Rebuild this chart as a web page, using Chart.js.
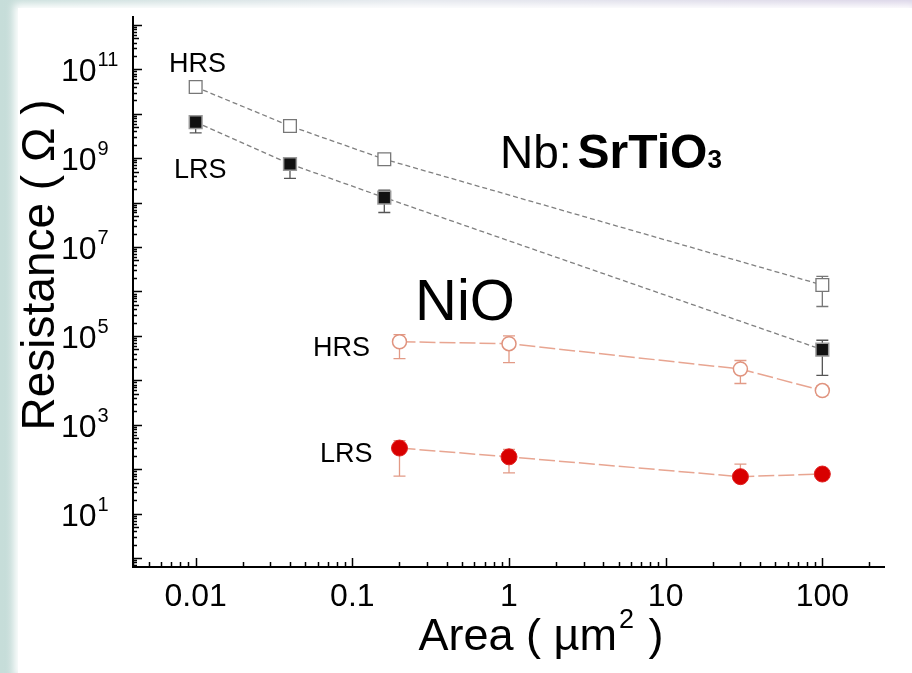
<!DOCTYPE html>
<html>
<head>
<meta charset="utf-8">
<script src="https://cdn.jsdelivr.net/npm/chart.js@4.4.1/dist/chart.umd.min.js"></script>
<style>
  html, body { margin: 0; padding: 0; }
  body {
    width: 912px; height: 673px; overflow: hidden; position: relative;
    background: linear-gradient(90deg, #c6ddd9 0%, #e2e6ec 45%, #d8d1e6 100%);
  }
  .panel {
    position: absolute; left: 18px; top: 8px; right: 0; bottom: 0;
    background: #fff; box-shadow: 0 0 8px 4px #fff;
  }
  .wrap { position: absolute; left: 0; top: 0; width: 912px; height: 673px; }
</style>
</head>
<body>
<div class="panel"></div>
<div class="wrap"><canvas id="resChart"></canvas></div>
<script>
// 数据：面积 (μm²) 与电阻 (Ω)
const areaNb = [0.01, 0.04, 0.16, 100];
const nbHrs = [4.0e10, 5.3e9, 9.5e8, 1.4e6];
const nbHrsLow = [3.4e10, 4.6e9, 8.3e8, 4.6e5];
const nbHrsHigh = [4.7e10, 6.1e9, 1.1e9, 2.2e6];
const nbLrs = [6.5e9, 7.4e8, 1.3e8, 4.9e4];
const nbLrsLow = [3.7e9, 3.5e8, 6.0e7, 1.3e4];
const nbLrsHigh = [8.9e9, 1.0e9, 1.9e8, 8.0e4];

const areaNiO = [0.2, 1, 30, 100];
const nioHrs = [7.4e4, 6.7e4, 1.8e4, 5.9e3];
const nioHrsLow = [3.1e4, 2.5e4, 8.5e3, 4.6e3];
const nioHrsHigh = [1.07e5, 1.0e5, 2.8e4, 7.5e3];
const nioLrs = [300, 190, 68, 78];
const nioLrsLow = [70, 83, 60, 78];
const nioLrsHigh = [440, 280, 130, 78];

// 刻度
const xTickValues = [0.01, 0.1, 1, 10, 100];
const xTickLabels = ['0.01', '0.1', '1', '10', '100'];
const yTickExponents = [1, 3, 5, 7, 9, 11];

const FONT = "'Liberation Sans', Arial, sans-serif";

function pts(xs, ys) {
  return xs.map((x, i) => ({ x: x, y: ys[i] }));
}

function drawParts(ctx, parts, x, y) {
  parts.forEach(p => {
    ctx.font = p.font;
    ctx.fillText(p.text, x, y + (p.dy || 0));
    x += ctx.measureText(p.text).width + (p.gap || 0);
  });
}

function partsWidth(ctx, parts) {
  let w = 0;
  parts.forEach(p => { ctx.font = p.font; w += ctx.measureText(p.text).width + (p.gap || 0); });
  return w;
}

const errorBars = {
  id: 'errorBars',
  beforeDatasetsDraw(chart) {
    const ctx = chart.ctx;
    const xs = chart.scales.x, ys = chart.scales.y;
    chart.data.datasets.forEach(ds => {
      if (!ds.errLow) return;
      ctx.save();
      ctx.strokeStyle = ds.errColor;
      ctx.lineWidth = 1.3;
      ds.data.forEach((p, i) => {
        const px = xs.getPixelForValue(p.x);
        const y1 = ys.getPixelForValue(ds.errLow[i]);
        const y2 = ys.getPixelForValue(ds.errHigh[i]);
        if (Math.abs(y1 - y2) < 2) return;
        ctx.beginPath();
        ctx.moveTo(px, y1); ctx.lineTo(px, y2);
        ctx.moveTo(px - 6, y1); ctx.lineTo(px + 6, y1);
        ctx.moveTo(px - 6, y2); ctx.lineTo(px + 6, y2);
        ctx.stroke();
      });
      ctx.restore();
    });
  }
};

const frame = {
  id: 'frame',
  afterDraw(chart) {
    const ctx = chart.ctx;
    const a = chart.chartArea;
    const xs = chart.scales.x, ys = chart.scales.y;
    ctx.save();
    ctx.strokeStyle = '#000';
    ctx.fillStyle = '#000';

    // 坐标轴线
    ctx.lineWidth = 2;
    ctx.beginPath();
    ctx.moveTo(a.left, a.top); ctx.lineTo(a.left, a.bottom); ctx.lineTo(a.right, a.bottom);
    ctx.stroke();

    // y 轴刻度（向内）
    ctx.lineWidth = 1.5;
    ctx.beginPath();
    for (let e = -1; e <= 12; e++) {
      for (let m = 1; m <= 9; m++) {
        const v = m * Math.pow(10, e);
        if (v < ys.min || v > ys.max) continue;
        const py = Math.round(ys.getPixelForValue(v)) + 0.5;
        const len = m === 1 ? 9 : (m === 5 ? 6 : 4);
        ctx.moveTo(a.left, py); ctx.lineTo(a.left + len, py);
      }
    }
    // x 轴刻度（向内）
    for (let e = -3; e <= 2; e++) {
      for (let m = 1; m <= 9; m++) {
        const v = m * Math.pow(10, e);
        if (v < xs.min || v > xs.max) continue;
        const px = Math.round(xs.getPixelForValue(v)) + 0.5;
        const len = m === 1 ? 9 : 5;
        ctx.moveTo(px, a.bottom); ctx.lineTo(px, a.bottom - len);
      }
    }
    ctx.stroke();

    // x 刻度标签
    ctx.font = '32px ' + FONT;
    ctx.textAlign = 'center';
    ctx.textBaseline = 'alphabetic';
    xTickValues.forEach((v, i) => {
      ctx.fillText(xTickLabels[i], xs.getPixelForValue(v), a.bottom + 39);
    });

    // y 刻度标签 10^n
    ctx.textAlign = 'left';
    yTickExponents.forEach(n => {
      const py = ys.getPixelForValue(Math.pow(10, n));
      drawParts(ctx, [
        { text: '10', font: '32px ' + FONT, gap: 1 },
        { text: String(n), font: '20px ' + FONT, dy: -15 }
      ], 61, py + 12);
    });

    // 轴标题
    ctx.textAlign = 'left';
    const xt = [
      { text: 'Area ( \u00b5m', font: '45px ' + FONT, gap: 2 },
      { text: '2', font: '27px ' + FONT, dy: -22, gap: 2 },
      { text: ' )', font: '45px ' + FONT }
    ];
    drawParts(ctx, xt, 541 - partsWidth(ctx, xt) / 2, 650);

    ctx.save();
    ctx.translate(54, 265);
    ctx.rotate(-Math.PI / 2);
    ctx.font = '46px ' + FONT;
    ctx.textAlign = 'center';
    ctx.fillText('Resistance ( \u03a9 )', 0, 0);
    ctx.restore();

    // 注释文字
    ctx.textAlign = 'left';
    ctx.font = '27px ' + FONT;
    ctx.fillText('HRS', 169, 72);
    ctx.fillText('LRS', 174, 178);
    ctx.fillText('HRS', 313, 356);
    ctx.fillText('LRS', 320, 462);
    ctx.font = '58px ' + FONT;
    ctx.fillText('NiO', 415, 320);
    drawParts(ctx, [
      { text: 'Nb:', font: '46px ' + FONT, gap: 6 },
      { text: 'SrTiO', font: 'bold 48px ' + FONT },
      { text: '3', font: 'bold 26px ' + FONT }
    ], 500, 168);
    ctx.restore();
  }
};

const ctx = document.getElementById('resChart').getContext('2d');
const resChart = new Chart(ctx, {
  type: 'scatter',
  data: {
    datasets: [
      {
        label: 'Nb:SrTiO3 HRS',
        data: pts(areaNb, nbHrs),
        errLow: nbHrsLow, errHigh: nbHrsHigh, errColor: '#777',
        showLine: true,
        borderColor: '#808080', borderWidth: 1.3, borderDash: [5, 3],
        pointStyle: 'rect', pointRadius: 9,
        pointBackgroundColor: '#fff', pointBorderColor: '#777', pointBorderWidth: 1.3
      },
      {
        label: 'Nb:SrTiO3 LRS',
        data: pts(areaNb, nbLrs),
        errLow: nbLrsLow, errHigh: nbLrsHigh, errColor: '#555',
        showLine: true,
        borderColor: '#808080', borderWidth: 1.3, borderDash: [5, 3],
        pointStyle: 'rect', pointRadius: 9,
        pointBackgroundColor: '#111', pointBorderColor: '#999', pointBorderWidth: 1.5
      },
      {
        label: 'NiO HRS',
        data: pts(areaNiO, nioHrs),
        errLow: nioHrsLow, errHigh: nioHrsHigh, errColor: '#e29a86',
        showLine: true,
        borderColor: '#e8a591', borderWidth: 1.5, borderDash: [16, 4],
        pointStyle: 'circle', pointRadius: 7,
        pointBackgroundColor: '#fff', pointBorderColor: '#e0937e', pointBorderWidth: 1.5
      },
      {
        label: 'NiO LRS',
        data: pts(areaNiO, nioLrs),
        errLow: nioLrsLow, errHigh: nioLrsHigh, errColor: '#e29a86',
        showLine: true,
        borderColor: '#e8a591', borderWidth: 1.5, borderDash: [16, 4],
        pointStyle: 'circle', pointRadius: 8,
        pointBackgroundColor: '#d80000', pointBorderColor: '#e02020', pointBorderWidth: 1
      }
    ]
  },
  options: {
    responsive: true,
    maintainAspectRatio: false,
    animation: false,
    layout: { padding: { left: 133, top: 16, right: 27, bottom: 106 } },
    plugins: {
      legend: { display: false },
      tooltip: { enabled: false }
    },
    scales: {
      x: { type: 'logarithmic', display: false, bounds: 'data',
           min: Math.pow(10, -2.4), max: Math.pow(10, 2.4) },
      y: { type: 'logarithmic', display: false, bounds: 'data',
           min: Math.pow(10, -0.2), max: Math.pow(10, 12.2) }
    }
  },
  plugins: [errorBars, frame]
});
</script>
</body>
</html>
